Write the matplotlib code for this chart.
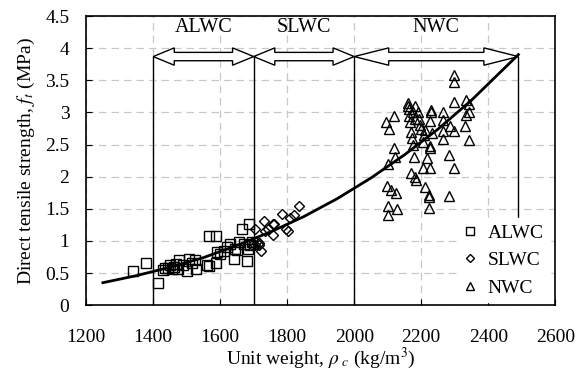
import matplotlib
matplotlib.use("Agg")
import matplotlib.pyplot as plt
from matplotlib.patches import Polygon

plt.rcParams['font.family'] = ['Liberation Serif', 'DejaVu Serif']
plt.rcParams['mathtext.fontset'] = 'stix'

# ALWC data (unit weight, tensile strength)
alwc_x = [1339, 1379, 1414, 1428, 1435, 1443, 1450, 1455, 1462, 1468, 1473, 1478, 1490,
          1500, 1508, 1515, 1525, 1528, 1560, 1567, 1587, 1566, 1588, 1590, 1600, 1610,
          1620, 1630, 1640, 1645, 1650, 1657, 1665, 1670, 1679, 1683, 1687, 1690, 1695]
alwc_y = [0.53, 0.66, 0.35, 0.54, 0.58, 0.58, 0.62, 0.56, 0.60, 0.64, 0.56, 0.70, 0.62,
          0.53, 0.72, 0.65, 0.70, 0.56, 0.63, 1.07, 1.07, 0.61, 0.65, 0.83, 0.80, 0.85,
          0.90, 0.96, 0.72, 0.88, 0.86, 0.99, 1.18, 0.95, 0.69, 0.87, 1.26, 0.93, 0.98]

# SLWC data
slwc_x = [1695, 1704, 1704, 1710, 1717, 1717, 1721, 1731, 1734, 1744, 1757, 1759, 1761,
          1784, 1797, 1802, 1807, 1819, 1836]
slwc_y = [0.93, 0.93, 1.19, 1.00, 0.93, 0.97, 0.84, 1.31, 1.16, 1.19, 1.26, 1.09, 1.27,
          1.42, 1.18, 1.16, 1.35, 1.40, 1.55]

# NWC data
nwc_x = [2095, 2098, 2100, 2100, 2102, 2105, 2110, 2118, 2120, 2122, 2125, 2128,
         2160, 2162, 2165, 2165, 2168, 2170, 2170, 2172, 2175, 2175, 2178, 2180, 2180,
         2182, 2185, 2190, 2192, 2195, 2198,
         2205, 2206, 2207, 2212, 2212, 2217, 2222, 2222, 2222, 2227, 2227, 2227, 2227,
         2229, 2229, 2232, 2264, 2264, 2265, 2265, 2284, 2284, 2287, 2299, 2299, 2299,
         2299, 2299, 2331, 2333, 2333, 2343, 2344, 2344]
nwc_y = [2.85, 1.85, 2.2, 1.55, 1.4, 2.75, 1.8, 2.95, 2.45, 2.3, 1.75, 1.5,
         3.15, 3.1, 3.05, 2.95, 2.85, 2.7, 2.05, 2.6, 3.0, 2.5, 2.3, 2.9, 2.0,
         3.1, 1.95, 3.0, 2.9, 2.8, 2.75,
         2.13, 2.54, 2.65, 2.73, 1.84, 2.29, 1.71, 1.68, 1.52, 2.13, 2.86, 2.47, 2.45,
         3.04, 3.0, 2.68, 3.0, 2.88, 2.71, 2.58, 2.34, 1.70, 2.79, 3.58, 3.48, 3.17,
         2.71, 2.13, 2.79, 3.20, 2.96, 3.13, 3.0, 2.57]

# trend curve
curve_x = [1250, 1350, 1450, 1550, 1650, 1750, 1850, 1950, 2050, 2150, 2250, 2350, 2490]
curve_y = [0.35, 0.46, 0.59, 0.74, 0.93, 1.14, 1.38, 1.66, 1.98, 2.34, 2.74, 3.19, 3.90]

# concrete type ranges
ranges = [("ALWC", 1400, 1700), ("SLWC", 1700, 2000), ("NWC", 2000, 2490)]


def block_arrow(ax, x0, x1, yc, hh=0.135, sh=0.065, frac=0.21):
    L = (x1 - x0) * frac
    xs = [x0, x0 + L, x0 + L, x1 - L, x1 - L, x1, x1 - L, x1 - L, x0 + L, x0 + L]
    ys = [yc, yc + hh, yc + sh, yc + sh, yc + hh, yc, yc - hh, yc - sh, yc - sh, yc - hh]
    ax.add_patch(Polygon(list(zip(xs, ys)), closed=True, fc='white', ec='black',
                         lw=1.0, zorder=4))


fig = plt.figure(figsize=(5.82, 3.74), dpi=100)
ax = fig.add_axes([0.148, 0.184, 0.806, 0.773])

ax.plot(alwc_x, alwc_y, 's', mfc='none', mec='black', ms=6.5, mew=1.0, label='ALWC', zorder=3)
ax.plot(slwc_x, slwc_y, 'D', mfc='none', mec='black', ms=5, mew=1.0, label='SLWC', zorder=3)
ax.plot(nwc_x, nwc_y, '^', mfc='none', mec='black', ms=7, mew=1.0, label='NWC', zorder=3)
ax.plot(curve_x, curve_y, '-', color='black', lw=2, zorder=5)

yc = 3.87
for name, a, b in ranges:
    block_arrow(ax, a, b, yc)
    ax.text((a + b) / 2, 4.33, name, ha='center', va='center', fontsize=14.5)
for xv in [1400, 1700, 2000]:
    ax.plot([xv, xv], [0, yc], color='black', lw=1, zorder=2)
ax.plot([2490, 2490], [1.37, yc], color='black', lw=1, zorder=2)

ax.set_xlim(1200, 2600)
ax.set_ylim(0, 4.5)
ax.set_xticks(range(1200, 2601, 200))
ax.set_yticks([0, 0.5, 1, 1.5, 2, 2.5, 3, 3.5, 4, 4.5])
ax.set_yticklabels(['0', '0.5', '1', '1.5', '2', '2.5', '3', '3.5', '4', '4.5'])
ax.tick_params(direction='in', labelsize=14, length=4)
ax.tick_params(axis='x', pad=17)
ax.tick_params(axis='y', pad=12)
ax.grid(True, color='#c8c8c8', ls=(0, (6, 4)), lw=0.9)
ax.set_axisbelow(True)
for s in ax.spines.values():
    s.set_linewidth(1.2)

ax.set_xlabel(r'Unit weight, $\rho_{\ c}$ (kg/m$^3$)', fontsize=14, labelpad=0)
ax.set_ylabel(r'Direct tensile strength, $f_t$ (MPa)', fontsize=14, labelpad=6)

leg = ax.legend(loc='upper left', bbox_to_anchor=(0.79, 0.30), fontsize=14,
                markerscale=0.85, handlelength=0.8, handletextpad=0.5,
                borderpad=0.3, borderaxespad=0.0,
                frameon=True, fancybox=False, edgecolor='white', framealpha=1,
                labelspacing=0.5)
leg.set_zorder(6)

fig.savefig('out.png', dpi=100)
